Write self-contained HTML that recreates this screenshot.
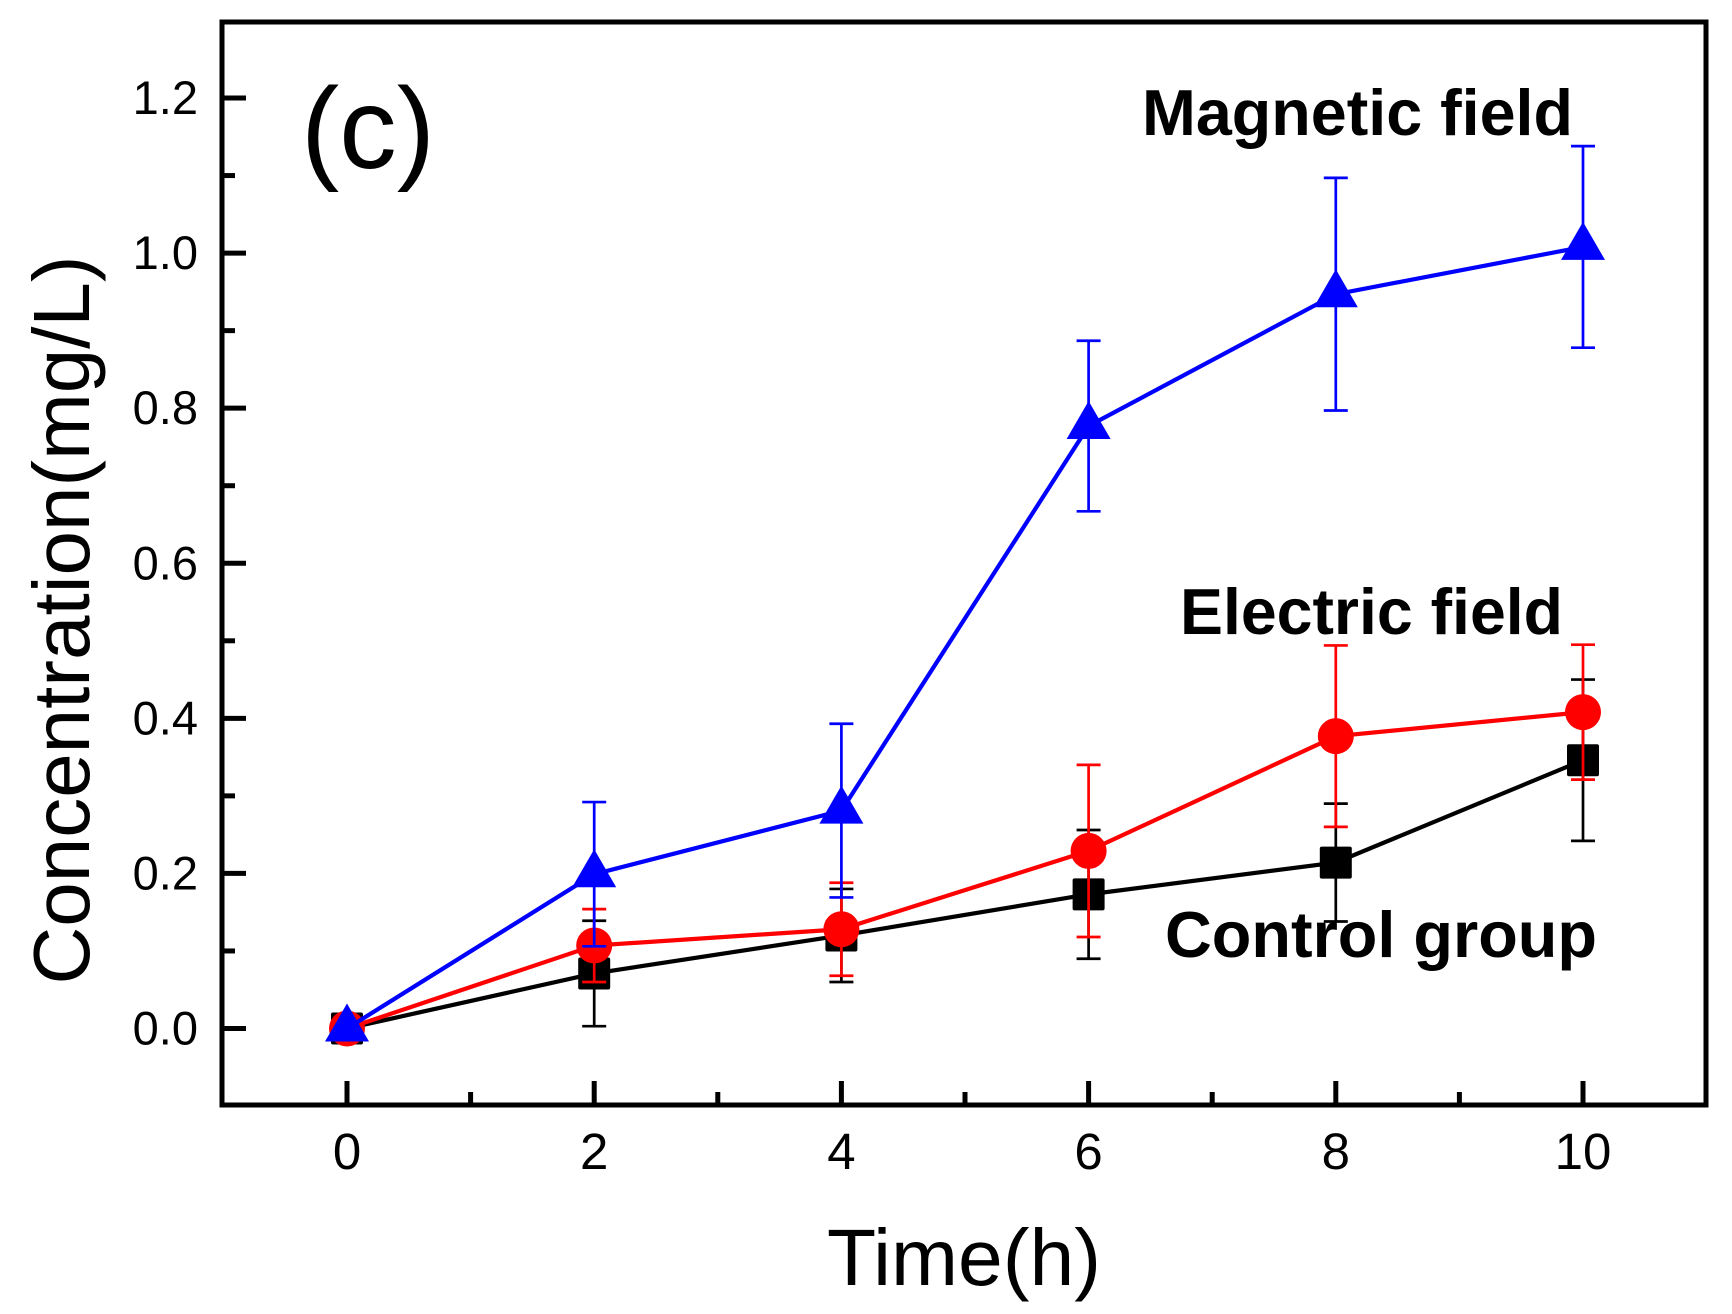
<!DOCTYPE html>
<html><head><meta charset="utf-8"><style>html,body{margin:0;padding:0;background:#fff}svg{display:block}</style></head>
<body>
<svg id="s" width="1732" height="1314" viewBox="0 0 1732 1314" xmlns="http://www.w3.org/2000/svg" font-family="Liberation Sans, Arial, sans-serif">
<rect width="1732" height="1314" fill="#fff"/>
<g id="axes" stroke="#000" stroke-width="5" fill="none" stroke-linecap="square">
<rect x="222" y="22" width="1484" height="1083"/>
</g>
<g id="ticks" stroke="#000" stroke-width="5"></g>
<g id="labels" font-size="47" fill="#000"></g>
<text x="827" y="1285" font-size="80" textLength="274" lengthAdjust="spacingAndGlyphs">Time(h)</text>
<text transform="translate(89,620) rotate(-90)" text-anchor="middle" font-size="80" textLength="729" lengthAdjust="spacingAndGlyphs">Concentration(mg/L)</text>
<text x="301" y="168" font-size="115" textLength="134" lengthAdjust="spacingAndGlyphs">(c)</text>
<g font-weight="bold" font-size="65">
<text x="1142" y="135" textLength="431" lengthAdjust="spacingAndGlyphs">Magnetic field</text>
<text x="1180" y="634" textLength="383" lengthAdjust="spacingAndGlyphs">Electric field</text>
<text x="1165" y="957" textLength="432" lengthAdjust="spacingAndGlyphs">Control group</text>
</g>
<g id="data"></g>
</svg>
<script>
var NS="http://www.w3.org/2000/svg";
function X(t){return 347+123.6*t}function Y(v){return 1028.5-775.4*v}
function el(p,n,a){var e=document.createElementNS(NS,n);for(var k in a)e.setAttribute(k,a[k]);p.appendChild(e);return e}
var tk=document.getElementById('ticks'),lb=document.getElementById('labels');
for(var i=-1;i<=13;i++){var v=i/10,y=Y(v);if(y<24||y>1103)continue;var L=(i%2==0)?24:13;
el(tk,'line',{x1:222,y1:y,x2:222+L,y2:y});
if(i%2==0&&i>=0){var t=el(lb,'text',{x:198,y:y+16,'text-anchor':'end'});t.textContent=(v).toFixed(1);}}
for(var t=-1;t<=11;t++){var x=X(t);if(x<224||x>1704)continue;var L=(t%2==0)?24:13;
el(tk,'line',{x1:x,y1:1105,x2:x,y2:1105-L});
if(t%2==0){var e=el(lb,'text',{x:x,y:1169,'text-anchor':'middle','font-size':51});e.textContent=t;}}
var ts=[0,2,4,6,8,10];
var S=[
{c:'#000',v:[0,0.071,0.12,0.173,0.214,0.346],e:[0,0.068,0.06,0.083,0.076,0.104],m:'sq'},
{c:'#f00',v:[0,0.107,0.128,0.229,0.377,0.408],e:[0,0.047,0.06,0.111,0.117,0.087],m:'ci'},
{c:'#00f',v:[0,0.199,0.281,0.777,0.947,1.008],e:[0,0.093,0.112,0.11,0.15,0.13],m:'tr'}];
var d=document.getElementById('data');
S.forEach(function(s){
var pts=ts.map(function(t,i){return X(t)+','+Y(s.v[i])}).join(' ');
el(d,'polyline',{points:pts,fill:'none',stroke:s.c,'stroke-width':4.2});
ts.forEach(function(t,i){if(!s.e[i])return;var x=X(t),y1=Y(s.v[i]+s.e[i]),y2=Y(s.v[i]-s.e[i]);
el(d,'line',{x1:x,y1:y1,x2:x,y2:y2,stroke:s.c,'stroke-width':2.7});
el(d,'line',{x1:x-12,y1:y1,x2:x+12,y2:y1,stroke:s.c,'stroke-width':2.7});
el(d,'line',{x1:x-12,y1:y2,x2:x+12,y2:y2,stroke:s.c,'stroke-width':2.7});});
ts.forEach(function(t,i){var x=X(t),y=Y(s.v[i]);
if(s.m=='sq')el(d,'rect',{x:x-16,y:y-16,width:32,height:32,rx:2,fill:s.c});
else if(s.m=='ci')el(d,'circle',{cx:x,cy:y,r:18,fill:s.c});
else el(d,'polygon',{points:(x)+','+(y-25)+' '+(x-22)+','+(y+13)+' '+(x+22)+','+(y+13),fill:s.c});});
});
</script>
</body></html>
